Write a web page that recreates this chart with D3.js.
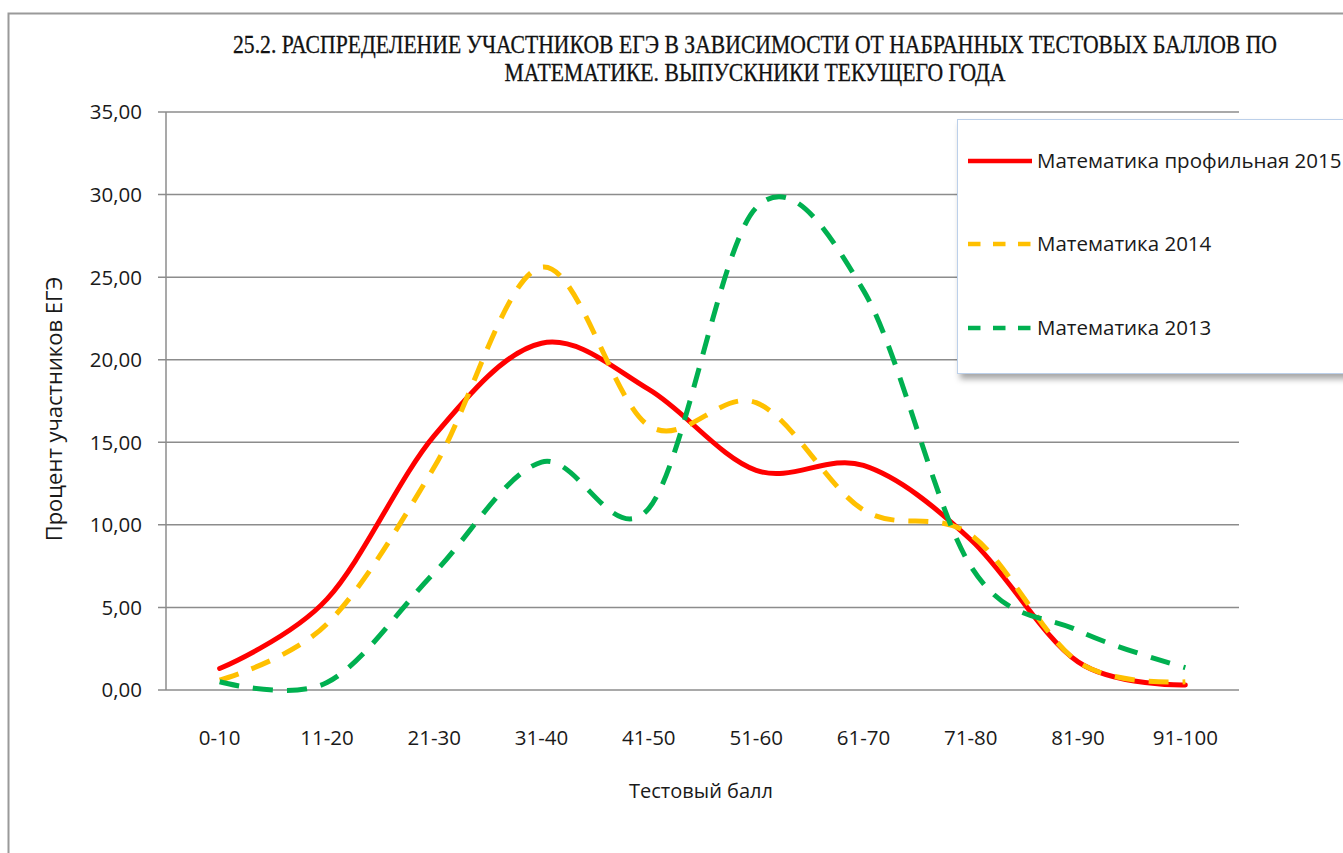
<!DOCTYPE html>
<html>
<head>
<meta charset="utf-8">
<script src="https://cdn.jsdelivr.net/npm/d3@7"></script>
<style>
  body { margin: 0; background: #fff; }
  svg { display: block; }
</style>
</head>
<body>
<svg width="1343" height="853"></svg>
<script>
var svg = d3.select("svg"),
    width = +svg.attr("width"),
    height = +svg.attr("height");

// данные
var categories = ["0-10", "11-20", "21-30", "31-40", "41-50", "51-60", "61-70", "71-80", "81-90", "91-100"];
var math2015 = [1.3, 5.5, 15.4, 21.0, 18.2, 13.3, 13.6, 9.1, 1.7, 0.3];
var math2014 = [0.6, 4.0, 13.5, 25.6, 16.0, 17.4, 10.9, 9.4, 1.7, 0.5];
var math2013 = [0.5, 0.45, 7.1, 13.8, 11.0, 29.2, 24.2, 7.5, 3.6, 1.35];
var yTicks = [0, 5, 10, 15, 20, 25, 30, 35];
var seriesNames = ["Математика профильная 2015", "Математика 2014", "Математика 2013"];
var titleLines = [
    "25.2. РАСПРЕДЕЛЕНИЕ УЧАСТНИКОВ ЕГЭ В ЗАВИСИМОСТИ ОТ НАБРАННЫХ ТЕСТОВЫХ БАЛЛОВ ПО",
    "МАТЕМАТИКЕ. ВЫПУСКНИКИ ТЕКУЩЕГО ГОДА"
];

var series = [
    { name: seriesNames[0], values: math2015, color: "#ff0000", dash: null },
    { name: seriesNames[1], values: math2014, color: "#ffc000", dash: "20,14" },
    { name: seriesNames[2], values: math2013, color: "#00b050", dash: "20,14" }
];

var sans = "'Open Sans', 'Noto Sans', sans-serif";
var plotLeft = 166, plotRight = 1239, plotTop = 112, plotBottom = 690;

var x = d3.scaleBand().domain(categories).range([plotLeft, plotRight]);
var y = d3.scaleLinear().domain([0, 35]).range([plotBottom, plotTop]);

var defs = svg.append("defs");
var shadow = defs.append("filter").attr("id", "shadow")
    .attr("x", "-10%").attr("y", "-10%").attr("width", "130%").attr("height", "130%");
shadow.append("feDropShadow")
    .attr("dx", 3).attr("dy", 5).attr("stdDeviation", 3)
    .attr("flood-color", "#000").attr("flood-opacity", 0.35);

// рамка диаграммы
svg.append("rect")
    .attr("x", 8.5).attr("y", 13.5)
    .attr("width", width + 20).attr("height", height + 20)
    .attr("fill", "#fff")
    .attr("stroke", "#9a9a9a")
    .attr("stroke-width", 2);

// заголовок
svg.append("g").selectAll("text")
    .data(titleLines)
    .enter().append("text")
    .attr("x", 755)
    .attr("y", function (d, i) { return 53 + i * 28; })
    .attr("text-anchor", "middle")
    .attr("textLength", function (d, i) { return i == 0 ? 1044 : 501; })
    .attr("lengthAdjust", "spacingAndGlyphs")
    .style("font-family", "'Liberation Serif', 'Times New Roman', serif")
    .style("font-size", "25px")
    .style("fill", "#111")
    .style("stroke", "#111")
    .style("stroke-width", 0.3)
    .text(function (d) { return d; });

// сетка
svg.append("g")
    .selectAll("line")
    .data(yTicks)
    .enter().append("line")
    .attr("x1", plotLeft - 8)
    .attr("x2", plotRight)
    .attr("y1", function (d) { return y(d); })
    .attr("y2", function (d) { return y(d); })
    .attr("stroke", "#8c8c8c")
    .attr("stroke-width", 1.5);

svg.append("line")
    .attr("x1", plotLeft).attr("x2", plotLeft)
    .attr("y1", plotTop).attr("y2", plotBottom)
    .attr("stroke", "#8c8c8c")
    .attr("stroke-width", 1.5);

// подписи оси Y
svg.append("g")
    .selectAll("text")
    .data(yTicks)
    .enter().append("text")
    .attr("x", 142)
    .attr("y", function (d) { return y(d); })
    .attr("dy", "0.36em")
    .attr("text-anchor", "end")
    .style("font-family", sans)
    .style("font-size", "20.5px")
    .style("fill", "#1a1a1a")
    .text(function (d) { return d3.format(".2f")(d).replace(".", ","); });

// подписи категорий
svg.append("g")
    .selectAll("text")
    .data(categories)
    .enter().append("text")
    .attr("x", function (d) { return x(d) + x.bandwidth() / 2; })
    .attr("y", 745)
    .attr("text-anchor", "middle")
    .style("font-family", sans)
    .style("font-size", "20.5px")
    .style("fill", "#1a1a1a")
    .text(function (d) { return d; });

// названия осей
svg.append("text")
    .attr("x", 701)
    .attr("y", 798)
    .attr("text-anchor", "middle")
    .style("font-family", sans)
    .style("font-size", "20px")
    .style("fill", "#1a1a1a")
    .text("Тестовый балл");

svg.append("text")
    .attr("transform", "translate(62,409) rotate(-90)")
    .attr("text-anchor", "middle")
    .style("font-family", sans)
    .style("font-size", "22px")
    .style("fill", "#1a1a1a")
    .text("Процент участников ЕГЭ");

// линии
var line = d3.line()
    .x(function (d, i) { return x(categories[i]) + x.bandwidth() / 2; })
    .y(function (d) { return y(d); })
    .curve(d3.curveCardinal.tension(0));

svg.append("g")
    .selectAll("path")
    .data(series)
    .enter().append("path")
    .attr("d", function (d) { return line(d.values); })
    .attr("fill", "none")
    .attr("stroke", function (d) { return d.color; })
    .attr("stroke-width", 5)
    .attr("stroke-linecap", function (d) { return d.dash ? "butt" : "round"; })
    .attr("stroke-dasharray", function (d) { return d.dash; });

// легенда
var legend = svg.append("g");
legend.append("rect")
    .attr("x", 957.5).attr("y", 119.5)
    .attr("width", 420).attr("height", 254)
    .attr("fill", "#fff")
    .attr("stroke", "#bcd0ea")
    .attr("stroke-width", 1)
    .attr("filter", "url(#shadow)");

var item = legend.selectAll("g.item")
    .data(series)
    .enter().append("g")
    .attr("class", "item")
    .attr("transform", function (d, i) { return "translate(0," + [161, 244, 328][i] + ")"; });

item.append("line")
    .attr("x1", 968).attr("x2", 1032)
    .attr("y1", 0).attr("y2", 0)
    .attr("stroke", function (d) { return d.color; })
    .attr("stroke-width", 4.5)
    .attr("stroke-dasharray", function (d) { return d.dash ? "12.5,12.5" : null; });

item.append("text")
    .attr("x", 1037)
    .attr("y", 0)
    .attr("dy", "0.36em")
    .style("font-family", sans)
    .style("font-size", "20.5px")
    .style("fill", "#1a1a1a")
    .text(function (d) { return d.name; });
</script>
</body>
</html>
